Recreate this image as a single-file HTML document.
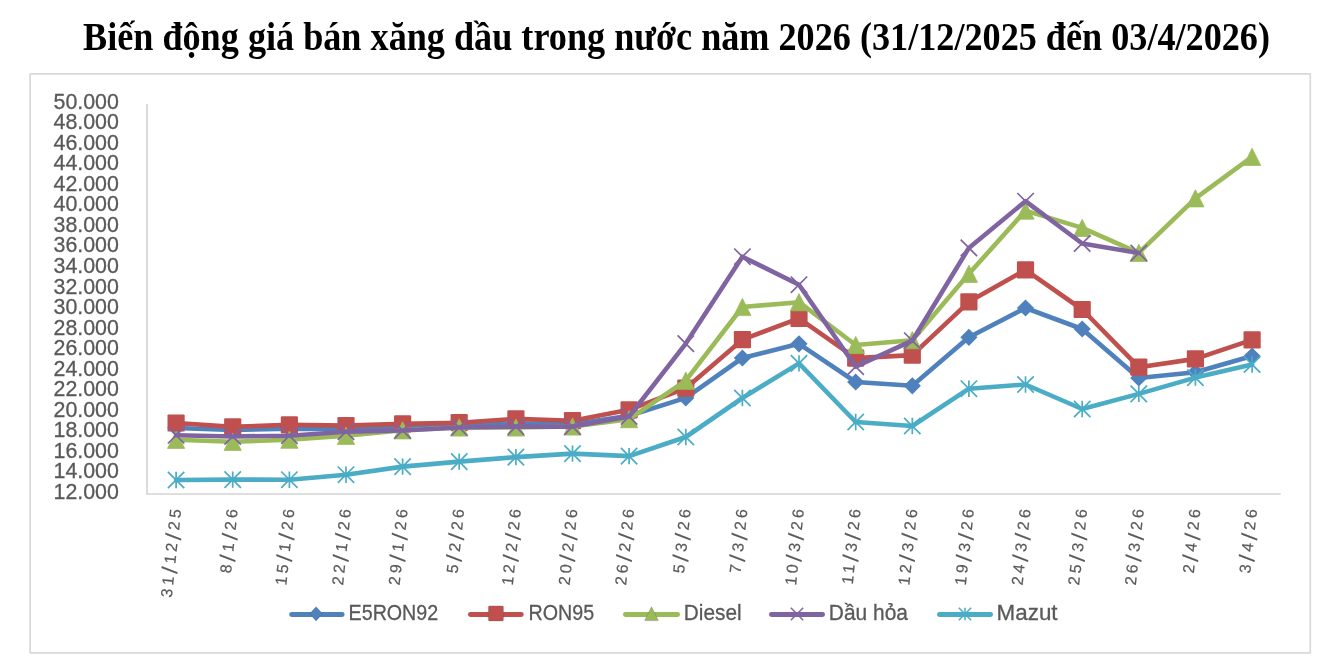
<!DOCTYPE html>
<html lang="vi">
<head>
<meta charset="utf-8">
<title>Biến động giá bán xăng dầu trong nước năm 2026</title>
<style>
html,body{margin:0;padding:0;background:#fff;}
body{width:1322px;height:656px;overflow:hidden;position:relative;}
svg{position:absolute;left:0;top:0;display:block;}
.title{font-family:"Liberation Serif","DejaVu Serif",serif;font-weight:bold;font-size:39.8px;fill:#000;}
.ylab{font-family:"Liberation Sans","DejaVu Sans",sans-serif;font-size:22.6px;fill:#595959;stroke:#595959;stroke-width:0.3px;}
.xlab{font-family:"Liberation Sans","DejaVu Sans",sans-serif;font-size:16px;fill:#595959;stroke:#595959;stroke-width:0.2px;letter-spacing:3.3px;}
.xlab .s{font-size:22px;}
.leg{font-family:"Liberation Sans","DejaVu Sans",sans-serif;font-size:22.6px;fill:#595959;stroke:#595959;stroke-width:0.3px;}
</style>
</head>
<body>
<svg width="1322" height="656" viewBox="0 0 1322 656">
<rect x="0" y="0" width="1322" height="656" fill="#ffffff"/>
<text class="title" x="83.0" y="50.4" textLength="1187" lengthAdjust="spacingAndGlyphs">Biến động giá bán xăng dầu trong nước năm 2026 (31/12/2025 đến 03/4/2026)</text>
<rect x="30.1" y="73.8" width="1280.2" height="579.1" fill="#ffffff" stroke="#d9d9d9" stroke-width="1.7" stroke-linejoin="round"/>
<path d="M147 104V494H1280.7" fill="none" stroke="#d3d3d3" stroke-width="1.6"/>

<g class="ylab">
<text x="53.5" y="108.6" textLength="65.4" lengthAdjust="spacingAndGlyphs">50.000</text>
<text x="53.5" y="129.1" textLength="65.4" lengthAdjust="spacingAndGlyphs">48.000</text>
<text x="53.5" y="149.7" textLength="65.4" lengthAdjust="spacingAndGlyphs">46.000</text>
<text x="53.5" y="170.2" textLength="65.4" lengthAdjust="spacingAndGlyphs">44.000</text>
<text x="53.5" y="190.8" textLength="65.4" lengthAdjust="spacingAndGlyphs">42.000</text>
<text x="53.5" y="211.3" textLength="65.4" lengthAdjust="spacingAndGlyphs">40.000</text>
<text x="53.5" y="231.9" textLength="65.4" lengthAdjust="spacingAndGlyphs">38.000</text>
<text x="53.5" y="252.4" textLength="65.4" lengthAdjust="spacingAndGlyphs">36.000</text>
<text x="53.5" y="273.0" textLength="65.4" lengthAdjust="spacingAndGlyphs">34.000</text>
<text x="53.5" y="293.5" textLength="65.4" lengthAdjust="spacingAndGlyphs">32.000</text>
<text x="53.5" y="314.1" textLength="65.4" lengthAdjust="spacingAndGlyphs">30.000</text>
<text x="53.5" y="334.6" textLength="65.4" lengthAdjust="spacingAndGlyphs">28.000</text>
<text x="53.5" y="355.1" textLength="65.4" lengthAdjust="spacingAndGlyphs">26.000</text>
<text x="53.5" y="375.7" textLength="65.4" lengthAdjust="spacingAndGlyphs">24.000</text>
<text x="53.5" y="396.2" textLength="65.4" lengthAdjust="spacingAndGlyphs">22.000</text>
<text x="53.5" y="416.8" textLength="65.4" lengthAdjust="spacingAndGlyphs">20.000</text>
<text x="53.5" y="437.3" textLength="65.4" lengthAdjust="spacingAndGlyphs">18.000</text>
<text x="53.5" y="457.9" textLength="65.4" lengthAdjust="spacingAndGlyphs">16.000</text>
<text x="53.5" y="478.4" textLength="65.4" lengthAdjust="spacingAndGlyphs">14.000</text>
<text x="53.5" y="499.0" textLength="65.4" lengthAdjust="spacingAndGlyphs">12.000</text>
</g>
<g class="xlab">
<text transform="translate(181.49 506.44) rotate(-83.9)" text-anchor="end">31<tspan class="s" dy="2.8">/</tspan><tspan dy="-2.8">12</tspan><tspan class="s" dy="2.8">/</tspan><tspan dy="-2.8">25</tspan></text>
<text transform="translate(238.12 506.44) rotate(-83.9)" text-anchor="end">8<tspan class="s" dy="2.8">/</tspan><tspan dy="-2.8">1</tspan><tspan class="s" dy="2.8">/</tspan><tspan dy="-2.8">26</tspan></text>
<text transform="translate(294.75 506.44) rotate(-83.9)" text-anchor="end">15<tspan class="s" dy="2.8">/</tspan><tspan dy="-2.8">1</tspan><tspan class="s" dy="2.8">/</tspan><tspan dy="-2.8">26</tspan></text>
<text transform="translate(351.38 506.44) rotate(-83.9)" text-anchor="end">22<tspan class="s" dy="2.8">/</tspan><tspan dy="-2.8">1</tspan><tspan class="s" dy="2.8">/</tspan><tspan dy="-2.8">26</tspan></text>
<text transform="translate(408.01 506.44) rotate(-83.9)" text-anchor="end">29<tspan class="s" dy="2.8">/</tspan><tspan dy="-2.8">1</tspan><tspan class="s" dy="2.8">/</tspan><tspan dy="-2.8">26</tspan></text>
<text transform="translate(464.64 506.44) rotate(-83.9)" text-anchor="end">5<tspan class="s" dy="2.8">/</tspan><tspan dy="-2.8">2</tspan><tspan class="s" dy="2.8">/</tspan><tspan dy="-2.8">26</tspan></text>
<text transform="translate(521.27 506.44) rotate(-83.9)" text-anchor="end">12<tspan class="s" dy="2.8">/</tspan><tspan dy="-2.8">2</tspan><tspan class="s" dy="2.8">/</tspan><tspan dy="-2.8">26</tspan></text>
<text transform="translate(577.90 506.44) rotate(-83.9)" text-anchor="end">20<tspan class="s" dy="2.8">/</tspan><tspan dy="-2.8">2</tspan><tspan class="s" dy="2.8">/</tspan><tspan dy="-2.8">26</tspan></text>
<text transform="translate(634.53 506.44) rotate(-83.9)" text-anchor="end">26<tspan class="s" dy="2.8">/</tspan><tspan dy="-2.8">2</tspan><tspan class="s" dy="2.8">/</tspan><tspan dy="-2.8">26</tspan></text>
<text transform="translate(691.16 506.44) rotate(-83.9)" text-anchor="end">5<tspan class="s" dy="2.8">/</tspan><tspan dy="-2.8">3</tspan><tspan class="s" dy="2.8">/</tspan><tspan dy="-2.8">26</tspan></text>
<text transform="translate(747.79 506.44) rotate(-83.9)" text-anchor="end">7<tspan class="s" dy="2.8">/</tspan><tspan dy="-2.8">3</tspan><tspan class="s" dy="2.8">/</tspan><tspan dy="-2.8">26</tspan></text>
<text transform="translate(804.42 506.44) rotate(-83.9)" text-anchor="end">10<tspan class="s" dy="2.8">/</tspan><tspan dy="-2.8">3</tspan><tspan class="s" dy="2.8">/</tspan><tspan dy="-2.8">26</tspan></text>
<text transform="translate(861.05 506.44) rotate(-83.9)" text-anchor="end">11<tspan class="s" dy="2.8">/</tspan><tspan dy="-2.8">3</tspan><tspan class="s" dy="2.8">/</tspan><tspan dy="-2.8">26</tspan></text>
<text transform="translate(917.68 506.44) rotate(-83.9)" text-anchor="end">12<tspan class="s" dy="2.8">/</tspan><tspan dy="-2.8">3</tspan><tspan class="s" dy="2.8">/</tspan><tspan dy="-2.8">26</tspan></text>
<text transform="translate(974.31 506.44) rotate(-83.9)" text-anchor="end">19<tspan class="s" dy="2.8">/</tspan><tspan dy="-2.8">3</tspan><tspan class="s" dy="2.8">/</tspan><tspan dy="-2.8">26</tspan></text>
<text transform="translate(1030.94 506.44) rotate(-83.9)" text-anchor="end">24<tspan class="s" dy="2.8">/</tspan><tspan dy="-2.8">3</tspan><tspan class="s" dy="2.8">/</tspan><tspan dy="-2.8">26</tspan></text>
<text transform="translate(1087.57 506.44) rotate(-83.9)" text-anchor="end">25<tspan class="s" dy="2.8">/</tspan><tspan dy="-2.8">3</tspan><tspan class="s" dy="2.8">/</tspan><tspan dy="-2.8">26</tspan></text>
<text transform="translate(1144.20 506.44) rotate(-83.9)" text-anchor="end">26<tspan class="s" dy="2.8">/</tspan><tspan dy="-2.8">3</tspan><tspan class="s" dy="2.8">/</tspan><tspan dy="-2.8">26</tspan></text>
<text transform="translate(1200.83 506.44) rotate(-83.9)" text-anchor="end">2<tspan class="s" dy="2.8">/</tspan><tspan dy="-2.8">4</tspan><tspan class="s" dy="2.8">/</tspan><tspan dy="-2.8">26</tspan></text>
<text transform="translate(1257.46 506.44) rotate(-83.9)" text-anchor="end">3<tspan class="s" dy="2.8">/</tspan><tspan dy="-2.8">4</tspan><tspan class="s" dy="2.8">/</tspan><tspan dy="-2.8">26</tspan></text>
</g>
<g><polyline points="176.1,428.0 232.7,430.0 289.4,428.7 346.0,429.0 402.6,428.0 459.2,425.8 515.9,423.3 572.5,424.2 629.1,415.7 685.8,397.9 742.4,358.0 799.0,343.8 855.7,382.0 912.3,385.8 968.9,337.3 1025.5,308.0 1082.2,329.0 1138.8,378.0 1195.4,372.3 1252.1,356.0" fill="none" stroke="#4f81bd" stroke-width="4.6" stroke-linejoin="round" stroke-linecap="round"/>
<path d="M176.1 419.4L184.7 428.0L176.1 436.6L167.5 428.0Z" fill="#4f81bd"/>
<path d="M232.7 421.4L241.3 430.0L232.7 438.6L224.1 430.0Z" fill="#4f81bd"/>
<path d="M289.4 420.1L298.0 428.7L289.4 437.3L280.8 428.7Z" fill="#4f81bd"/>
<path d="M346.0 420.4L354.6 429.0L346.0 437.6L337.4 429.0Z" fill="#4f81bd"/>
<path d="M402.6 419.4L411.2 428.0L402.6 436.6L394.0 428.0Z" fill="#4f81bd"/>
<path d="M459.2 417.2L467.9 425.8L459.2 434.4L450.6 425.8Z" fill="#4f81bd"/>
<path d="M515.9 414.7L524.5 423.3L515.9 431.9L507.3 423.3Z" fill="#4f81bd"/>
<path d="M572.5 415.6L581.1 424.2L572.5 432.8L563.9 424.2Z" fill="#4f81bd"/>
<path d="M629.1 407.1L637.7 415.7L629.1 424.3L620.5 415.7Z" fill="#4f81bd"/>
<path d="M685.8 389.3L694.4 397.9L685.8 406.5L677.2 397.9Z" fill="#4f81bd"/>
<path d="M742.4 349.4L751.0 358.0L742.4 366.6L733.8 358.0Z" fill="#4f81bd"/>
<path d="M799.0 335.2L807.6 343.8L799.0 352.4L790.4 343.8Z" fill="#4f81bd"/>
<path d="M855.7 373.4L864.3 382.0L855.7 390.6L847.1 382.0Z" fill="#4f81bd"/>
<path d="M912.3 377.2L920.9 385.8L912.3 394.4L903.7 385.8Z" fill="#4f81bd"/>
<path d="M968.9 328.7L977.5 337.3L968.9 345.9L960.3 337.3Z" fill="#4f81bd"/>
<path d="M1025.5 299.4L1034.1 308.0L1025.5 316.6L1016.9 308.0Z" fill="#4f81bd"/>
<path d="M1082.2 320.4L1090.8 329.0L1082.2 337.6L1073.6 329.0Z" fill="#4f81bd"/>
<path d="M1138.8 369.4L1147.4 378.0L1138.8 386.6L1130.2 378.0Z" fill="#4f81bd"/>
<path d="M1195.4 363.7L1204.0 372.3L1195.4 380.9L1186.8 372.3Z" fill="#4f81bd"/>
<path d="M1252.1 347.4L1260.7 356.0L1252.1 364.6L1243.5 356.0Z" fill="#4f81bd"/>
</g>
<g><polyline points="176.1,423.0 232.7,426.9 289.4,424.8 346.0,425.6 402.6,423.9 459.2,422.7 515.9,418.9 572.5,420.7 629.1,409.8 685.8,388.2 742.4,339.7 799.0,318.3 855.7,358.1 912.3,355.1 968.9,301.8 1025.5,269.9 1082.2,309.5 1138.8,367.2 1195.4,358.9 1252.1,339.9" fill="none" stroke="#c0504d" stroke-width="4.6" stroke-linejoin="round" stroke-linecap="round"/>
<rect x="167.5" y="414.4" width="17.2" height="17.2" rx="1.2" fill="#c0504d"/>
<rect x="224.1" y="418.3" width="17.2" height="17.2" rx="1.2" fill="#c0504d"/>
<rect x="280.8" y="416.2" width="17.2" height="17.2" rx="1.2" fill="#c0504d"/>
<rect x="337.4" y="417.0" width="17.2" height="17.2" rx="1.2" fill="#c0504d"/>
<rect x="394.0" y="415.3" width="17.2" height="17.2" rx="1.2" fill="#c0504d"/>
<rect x="450.6" y="414.1" width="17.2" height="17.2" rx="1.2" fill="#c0504d"/>
<rect x="507.3" y="410.3" width="17.2" height="17.2" rx="1.2" fill="#c0504d"/>
<rect x="563.9" y="412.1" width="17.2" height="17.2" rx="1.2" fill="#c0504d"/>
<rect x="620.5" y="401.2" width="17.2" height="17.2" rx="1.2" fill="#c0504d"/>
<rect x="677.2" y="379.6" width="17.2" height="17.2" rx="1.2" fill="#c0504d"/>
<rect x="733.8" y="331.1" width="17.2" height="17.2" rx="1.2" fill="#c0504d"/>
<rect x="790.4" y="309.7" width="17.2" height="17.2" rx="1.2" fill="#c0504d"/>
<rect x="847.1" y="349.5" width="17.2" height="17.2" rx="1.2" fill="#c0504d"/>
<rect x="903.7" y="346.5" width="17.2" height="17.2" rx="1.2" fill="#c0504d"/>
<rect x="960.3" y="293.2" width="17.2" height="17.2" rx="1.2" fill="#c0504d"/>
<rect x="1016.9" y="261.3" width="17.2" height="17.2" rx="1.2" fill="#c0504d"/>
<rect x="1073.6" y="300.9" width="17.2" height="17.2" rx="1.2" fill="#c0504d"/>
<rect x="1130.2" y="358.6" width="17.2" height="17.2" rx="1.2" fill="#c0504d"/>
<rect x="1186.8" y="350.3" width="17.2" height="17.2" rx="1.2" fill="#c0504d"/>
<rect x="1243.5" y="331.3" width="17.2" height="17.2" rx="1.2" fill="#c0504d"/>
</g>
<g><polyline points="176.1,439.8 232.7,441.8 289.4,439.7 346.0,435.8 402.6,430.3 459.2,427.5 515.9,427.5 572.5,426.5 629.1,419.1 685.8,380.7 742.4,307.0 799.0,302.2 855.7,345.0 912.3,340.2 968.9,273.8 1025.5,210.6 1082.2,227.9 1138.8,252.8 1195.4,198.3 1252.1,156.8" fill="none" stroke="#9bbb59" stroke-width="4.6" stroke-linejoin="round" stroke-linecap="round"/>
<path d="M176.1 431.2L184.7 448.4L167.5 448.4Z" fill="#9bbb59" stroke="#9bbb59" stroke-width="0.8" stroke-linejoin="round"/>
<path d="M232.7 433.2L241.3 450.4L224.1 450.4Z" fill="#9bbb59" stroke="#9bbb59" stroke-width="0.8" stroke-linejoin="round"/>
<path d="M289.4 431.1L298.0 448.3L280.8 448.3Z" fill="#9bbb59" stroke="#9bbb59" stroke-width="0.8" stroke-linejoin="round"/>
<path d="M346.0 427.2L354.6 444.4L337.4 444.4Z" fill="#9bbb59" stroke="#9bbb59" stroke-width="0.8" stroke-linejoin="round"/>
<path d="M402.6 421.7L411.2 438.9L394.0 438.9Z" fill="#9bbb59" stroke="#9bbb59" stroke-width="0.8" stroke-linejoin="round"/>
<path d="M459.2 418.9L467.9 436.1L450.6 436.1Z" fill="#9bbb59" stroke="#9bbb59" stroke-width="0.8" stroke-linejoin="round"/>
<path d="M515.9 418.9L524.5 436.1L507.3 436.1Z" fill="#9bbb59" stroke="#9bbb59" stroke-width="0.8" stroke-linejoin="round"/>
<path d="M572.5 417.9L581.1 435.1L563.9 435.1Z" fill="#9bbb59" stroke="#9bbb59" stroke-width="0.8" stroke-linejoin="round"/>
<path d="M629.1 410.5L637.7 427.7L620.5 427.7Z" fill="#9bbb59" stroke="#9bbb59" stroke-width="0.8" stroke-linejoin="round"/>
<path d="M685.8 372.1L694.4 389.3L677.2 389.3Z" fill="#9bbb59" stroke="#9bbb59" stroke-width="0.8" stroke-linejoin="round"/>
<path d="M742.4 298.4L751.0 315.6L733.8 315.6Z" fill="#9bbb59" stroke="#9bbb59" stroke-width="0.8" stroke-linejoin="round"/>
<path d="M799.0 293.6L807.6 310.8L790.4 310.8Z" fill="#9bbb59" stroke="#9bbb59" stroke-width="0.8" stroke-linejoin="round"/>
<path d="M855.7 336.4L864.3 353.6L847.1 353.6Z" fill="#9bbb59" stroke="#9bbb59" stroke-width="0.8" stroke-linejoin="round"/>
<path d="M912.3 331.6L920.9 348.8L903.7 348.8Z" fill="#9bbb59" stroke="#9bbb59" stroke-width="0.8" stroke-linejoin="round"/>
<path d="M968.9 265.2L977.5 282.4L960.3 282.4Z" fill="#9bbb59" stroke="#9bbb59" stroke-width="0.8" stroke-linejoin="round"/>
<path d="M1025.5 202.0L1034.1 219.2L1016.9 219.2Z" fill="#9bbb59" stroke="#9bbb59" stroke-width="0.8" stroke-linejoin="round"/>
<path d="M1082.2 219.3L1090.8 236.5L1073.6 236.5Z" fill="#9bbb59" stroke="#9bbb59" stroke-width="0.8" stroke-linejoin="round"/>
<path d="M1138.8 244.2L1147.4 261.4L1130.2 261.4Z" fill="#9bbb59" stroke="#9bbb59" stroke-width="0.8" stroke-linejoin="round"/>
<path d="M1195.4 189.7L1204.0 206.9L1186.8 206.9Z" fill="#9bbb59" stroke="#9bbb59" stroke-width="0.8" stroke-linejoin="round"/>
<path d="M1252.1 148.2L1260.7 165.4L1243.5 165.4Z" fill="#9bbb59" stroke="#9bbb59" stroke-width="0.8" stroke-linejoin="round"/>
</g>
<g><polyline points="176.1,435.3 232.7,436.5 289.4,435.7 346.0,431.7 402.6,430.5 459.2,427.5 515.9,426.6 572.5,426.6 629.1,416.5 685.8,343.6 742.4,256.7 799.0,284.7 855.7,366.7 912.3,340.7 968.9,247.9 1025.5,201.2 1082.2,243.5 1138.8,253.0" fill="none" stroke="#8064a2" stroke-width="4.6" stroke-linejoin="round" stroke-linecap="round"/>
<path d="M167.9 427.1L184.3 443.5M184.3 427.1L167.9 443.5" stroke="#8064a2" stroke-width="1.7" fill="none"/>
<path d="M224.5 428.3L240.9 444.7M240.9 428.3L224.5 444.7" stroke="#8064a2" stroke-width="1.7" fill="none"/>
<path d="M281.2 427.5L297.6 443.9M297.6 427.5L281.2 443.9" stroke="#8064a2" stroke-width="1.7" fill="none"/>
<path d="M337.8 423.5L354.2 439.9M354.2 423.5L337.8 439.9" stroke="#8064a2" stroke-width="1.7" fill="none"/>
<path d="M394.4 422.3L410.8 438.7M410.8 422.3L394.4 438.7" stroke="#8064a2" stroke-width="1.7" fill="none"/>
<path d="M451.1 419.3L467.4 435.7M467.4 419.3L451.1 435.7" stroke="#8064a2" stroke-width="1.7" fill="none"/>
<path d="M507.7 418.4L524.1 434.8M524.1 418.4L507.7 434.8" stroke="#8064a2" stroke-width="1.7" fill="none"/>
<path d="M564.3 418.4L580.7 434.8M580.7 418.4L564.3 434.8" stroke="#8064a2" stroke-width="1.7" fill="none"/>
<path d="M620.9 408.3L637.3 424.7M637.3 408.3L620.9 424.7" stroke="#8064a2" stroke-width="1.7" fill="none"/>
<path d="M677.6 335.4L694.0 351.8M694.0 335.4L677.6 351.8" stroke="#8064a2" stroke-width="1.7" fill="none"/>
<path d="M734.2 248.5L750.6 264.9M750.6 248.5L734.2 264.9" stroke="#8064a2" stroke-width="1.7" fill="none"/>
<path d="M790.8 276.5L807.2 292.9M807.2 276.5L790.8 292.9" stroke="#8064a2" stroke-width="1.7" fill="none"/>
<path d="M847.5 358.5L863.9 374.9M863.9 358.5L847.5 374.9" stroke="#8064a2" stroke-width="1.7" fill="none"/>
<path d="M904.1 332.5L920.5 348.9M920.5 332.5L904.1 348.9" stroke="#8064a2" stroke-width="1.7" fill="none"/>
<path d="M960.7 239.7L977.1 256.1M977.1 239.7L960.7 256.1" stroke="#8064a2" stroke-width="1.7" fill="none"/>
<path d="M1017.3 193.0L1033.8 209.4M1033.8 193.0L1017.3 209.4" stroke="#8064a2" stroke-width="1.7" fill="none"/>
<path d="M1074.0 235.3L1090.4 251.7M1090.4 235.3L1074.0 251.7" stroke="#8064a2" stroke-width="1.7" fill="none"/>
<path d="M1130.6 244.8L1147.0 261.2M1147.0 244.8L1130.6 261.2" stroke="#8064a2" stroke-width="1.7" fill="none"/>
</g>
<g><polyline points="176.1,480.0 232.7,479.6 289.4,479.7 346.0,474.7 402.6,466.6 459.2,461.6 515.9,457.1 572.5,453.6 629.1,456.1 685.8,437.0 742.4,398.0 799.0,363.4 855.7,422.0 912.3,426.0 968.9,388.7 1025.5,384.5 1082.2,409.0 1138.8,393.9 1195.4,377.6 1252.1,364.5" fill="none" stroke="#4bacc6" stroke-width="4.6" stroke-linejoin="round" stroke-linecap="round"/>
<path d="M167.9 471.8L184.3 488.2M184.3 471.8L167.9 488.2M176.1 471.8L176.1 488.2" stroke="#4bacc6" stroke-width="1.7" fill="none"/>
<path d="M224.5 471.4L240.9 487.8M240.9 471.4L224.5 487.8M232.7 471.4L232.7 487.8" stroke="#4bacc6" stroke-width="1.7" fill="none"/>
<path d="M281.2 471.5L297.6 487.9M297.6 471.5L281.2 487.9M289.4 471.5L289.4 487.9" stroke="#4bacc6" stroke-width="1.7" fill="none"/>
<path d="M337.8 466.5L354.2 482.9M354.2 466.5L337.8 482.9M346.0 466.5L346.0 482.9" stroke="#4bacc6" stroke-width="1.7" fill="none"/>
<path d="M394.4 458.4L410.8 474.8M410.8 458.4L394.4 474.8M402.6 458.4L402.6 474.8" stroke="#4bacc6" stroke-width="1.7" fill="none"/>
<path d="M451.1 453.4L467.4 469.8M467.4 453.4L451.1 469.8M459.2 453.4L459.2 469.8" stroke="#4bacc6" stroke-width="1.7" fill="none"/>
<path d="M507.7 448.9L524.1 465.3M524.1 448.9L507.7 465.3M515.9 448.9L515.9 465.3" stroke="#4bacc6" stroke-width="1.7" fill="none"/>
<path d="M564.3 445.4L580.7 461.8M580.7 445.4L564.3 461.8M572.5 445.4L572.5 461.8" stroke="#4bacc6" stroke-width="1.7" fill="none"/>
<path d="M620.9 447.9L637.3 464.3M637.3 447.9L620.9 464.3M629.1 447.9L629.1 464.3" stroke="#4bacc6" stroke-width="1.7" fill="none"/>
<path d="M677.6 428.8L694.0 445.2M694.0 428.8L677.6 445.2M685.8 428.8L685.8 445.2" stroke="#4bacc6" stroke-width="1.7" fill="none"/>
<path d="M734.2 389.8L750.6 406.2M750.6 389.8L734.2 406.2M742.4 389.8L742.4 406.2" stroke="#4bacc6" stroke-width="1.7" fill="none"/>
<path d="M790.8 355.2L807.2 371.6M807.2 355.2L790.8 371.6M799.0 355.2L799.0 371.6" stroke="#4bacc6" stroke-width="1.7" fill="none"/>
<path d="M847.5 413.8L863.9 430.2M863.9 413.8L847.5 430.2M855.7 413.8L855.7 430.2" stroke="#4bacc6" stroke-width="1.7" fill="none"/>
<path d="M904.1 417.8L920.5 434.2M920.5 417.8L904.1 434.2M912.3 417.8L912.3 434.2" stroke="#4bacc6" stroke-width="1.7" fill="none"/>
<path d="M960.7 380.5L977.1 396.9M977.1 380.5L960.7 396.9M968.9 380.5L968.9 396.9" stroke="#4bacc6" stroke-width="1.7" fill="none"/>
<path d="M1017.3 376.3L1033.8 392.7M1033.8 376.3L1017.3 392.7M1025.5 376.3L1025.5 392.7" stroke="#4bacc6" stroke-width="1.7" fill="none"/>
<path d="M1074.0 400.8L1090.4 417.2M1090.4 400.8L1074.0 417.2M1082.2 400.8L1082.2 417.2" stroke="#4bacc6" stroke-width="1.7" fill="none"/>
<path d="M1130.6 385.7L1147.0 402.1M1147.0 385.7L1130.6 402.1M1138.8 385.7L1138.8 402.1" stroke="#4bacc6" stroke-width="1.7" fill="none"/>
<path d="M1187.2 369.4L1203.6 385.8M1203.6 369.4L1187.2 385.8M1195.4 369.4L1195.4 385.8" stroke="#4bacc6" stroke-width="1.7" fill="none"/>
<path d="M1243.9 356.3L1260.3 372.7M1260.3 356.3L1243.9 372.7M1252.1 356.3L1252.1 372.7" stroke="#4bacc6" stroke-width="1.7" fill="none"/>
</g>
<g class="leg">
<line x1="291.59999999999997" y1="614.5" x2="342.20000000000005" y2="614.5" stroke="#4f81bd" stroke-width="4.8" stroke-linecap="round"/>
<path d="M316.1 606.7L322.6 613.8L316.1 620.9L309.6 613.8Z" fill="#4f81bd"/>
<text x="348.6" y="620.2" textLength="89.6" lengthAdjust="spacingAndGlyphs">E5RON92</text>
<line x1="470.4" y1="614.5" x2="521.3000000000001" y2="614.5" stroke="#c0504d" stroke-width="4.8" stroke-linecap="round"/>
<rect x="488.4" y="605.9" width="15" height="15" rx="1.2" fill="#c0504d"/>
<text x="528.6" y="620.2" textLength="65.6" lengthAdjust="spacingAndGlyphs">RON95</text>
<line x1="625.4" y1="614.5" x2="677.6" y2="614.5" stroke="#9bbb59" stroke-width="4.8" stroke-linecap="round"/>
<path d="M651.5 606.8L658.3 620.6L644.7 620.6Z" fill="#9bbb59"/>
<text x="683.8" y="620.2" textLength="57.8" lengthAdjust="spacingAndGlyphs">Diesel</text>
<line x1="771.4" y1="614.5" x2="822.6" y2="614.5" stroke="#8064a2" stroke-width="4.8" stroke-linecap="round"/>
<path d="M790.8 607.8L803.2 620.2M803.2 607.8L790.8 620.2" stroke="#8064a2" stroke-width="1.5" fill="none"/>
<text x="828.8" y="620.2" textLength="79.2" lengthAdjust="spacingAndGlyphs">Dầu hỏa</text>
<line x1="939.4" y1="614.5" x2="990.6" y2="614.5" stroke="#4bacc6" stroke-width="4.8" stroke-linecap="round"/>
<path d="M958.8 607.8L971.2 620.2M971.2 607.8L958.8 620.2M965.0 607.8L965.0 620.2" stroke="#4bacc6" stroke-width="1.5" fill="none"/>
<text x="996.6" y="620.2" textLength="61.0" lengthAdjust="spacingAndGlyphs">Mazut</text>
</g>
</svg>
</body>
</html>
